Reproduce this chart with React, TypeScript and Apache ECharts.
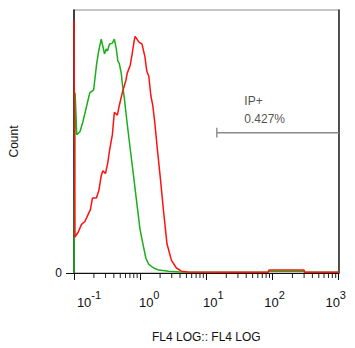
import React, { useEffect, useRef } from "react";
import * as echarts from "echarts";

// Histogram traces: [FL4 value, count]
const redSeries: [number, number][] = [
  [0.1, 96.3], [0.1035, 13.7], [0.116, 15.6], [0.13, 18.5], [0.146, 19.6], [0.163, 22.2],
  [0.177, 24.1], [0.19, 28.5], [0.218, 28.5], [0.238, 31.5], [0.258, 37.0], [0.273, 38.9],
  [0.299, 37.8], [0.324, 41.9], [0.343, 46.3], [0.38, 52.6], [0.407, 61.1], [0.452, 60.0],
  [0.484, 63.7], [0.536, 68.5], [0.609, 73.3], [0.636, 75.9], [0.706, 78.9], [0.756, 83.3],
  [0.809, 88.1], [0.837, 90.0], [0.896, 88.9], [0.959, 87.8], [1.066, 87.0], [1.18, 82.2],
  [1.26, 76.7], [1.35, 74.8], [1.45, 67.4], [1.55, 63.7], [1.66, 57.4], [1.8, 48.1],
  [2.02, 35.9], [2.26, 23.3], [2.54, 11.1], [2.97, 4.8], [3.53, 1.9], [4.19, 0.7],
  [5.3, 0.4], [20, 0.3], [86, 0.3], [88, 1.1], [300, 1.1], [305, 0.3], [1000, 0.3],
];

const greenSeries: [number, number][] = [
  [0.1, 0], [0.104, 68.5], [0.11, 52.6], [0.123, 53.7], [0.136, 57.4], [0.156, 63.7],
  [0.173, 68.5], [0.198, 69.6], [0.22, 79.6], [0.236, 84.4], [0.258, 88.9], [0.27, 86.7],
  [0.289, 83.3], [0.306, 85.2], [0.32, 84.4], [0.343, 87.0], [0.38, 87.4], [0.407, 88.9],
  [0.436, 85.2], [0.459, 80.7], [0.484, 79.6], [0.518, 75.9], [0.536, 72.2], [0.575, 66.7],
  [0.615, 60.0], [0.658, 53.7], [0.73, 44.4], [0.809, 35.2], [0.896, 25.9], [0.993, 16.7],
  [1.1, 11.1], [1.22, 5.6], [1.35, 3.3], [1.6, 1.9], [1.91, 1.1], [2.68, 0.7], [4.0, 0.4],
  [20, 0.3], [86, 0.3], [88, 0.7], [300, 0.7], [305, 0.3], [1000, 0.3],
];

// Gate "IP+"
const gateStart = 14.4;
const gateEnd = 1000;
const gateLevel = 53.3;
const gateCapLow = 51.5;
const gateCapHigh = 55.2;
const gateLabelPos: [number, number] = [37.5, 68.9];
const gateName = "IP+";
const gatePercent = "0.427%";

// Axes
const xMin = 0.1;
const xMax = 1000;
const yMin = 0;
const yMax = 100;
const yLabelValues = [0];
const decadeExponents = [-1, 0, 1, 2, 3];
const labelShift = [15, 9, 7, 2, -3];
const minorMultipliers = [2, 3, 4, 5, 6, 7, 8, 9];
const minorDecades = [-1, 0, 1, 2];
const xTitle = "FL4 LOG:: FL4 LOG";
const yTitle = "Count";

const FONT = "Liberation Sans, Arial, sans-serif";

export default function App() {
  const ref = useRef<HTMLDivElement>(null);

  useEffect(() => {
    if (!ref.current) return;
    const chart = echarts.init(ref.current, undefined, { renderer: "svg" });

    const minorTicks: [number, number][] = [];
    minorDecades.forEach((d) =>
      minorMultipliers.forEach((m) => minorTicks.push([m * Math.pow(10, d), 0]))
    );

    const rich: Record<string, any> = {};
    decadeExponents.forEach((e, i) => {
      const s = labelShift[i];
      rich["b" + i] = {
        fontSize: 13,
        fontFamily: FONT,
        color: "#111",
        lineHeight: 13,
        verticalAlign: "bottom",
        padding: [0, 0, 0, s > 0 ? 2 * s : 0],
      };
      rich["s" + i] = {
        fontSize: 11,
        fontFamily: FONT,
        color: "#111",
        lineHeight: 11,
        verticalAlign: "bottom",
        padding: [0, s < 0 ? -2 * s : 0, 9, 0],
      };
    });

    const option: any = {
      animation: false,
      textStyle: { fontFamily: FONT },
      grid: {
        left: 74,
        right: 12,
        top: 10,
        bottom: 68,
        show: true,
        borderColor: "#8c8c8c",
        borderWidth: 1,
        backgroundColor: "transparent",
      },
      xAxis: {
        type: "log",
        logBase: 10,
        min: xMin,
        max: xMax,
        splitNumber: 4,
        name: xTitle,
        nameLocation: "middle",
        nameGap: 58,
        nameTextStyle: { fontSize: 12, color: "#111", fontFamily: FONT },
        axisLine: { show: true, lineStyle: { color: "#111", width: 1.2 } },
        axisTick: { show: true, length: 7, inside: false, lineStyle: { color: "#111", width: 1 } },
        splitLine: { show: false },
        axisLabel: {
          margin: 23,
          rich,
          formatter: (v: number) => {
            const e = Math.round(Math.log10(v));
            const i = decadeExponents.indexOf(e);
            return `{b${i}|10}{s${i}|${e}}`;
          },
        },
      },
      yAxis: [
        {
          type: "value",
          min: yMin,
          max: yMax,
          name: yTitle,
          nameLocation: "middle",
          nameGap: 54,
          nameRotate: 90,
          nameTextStyle: { fontSize: 12, color: "#111", fontFamily: FONT },
          axisLine: { show: true, lineStyle: { color: "#111", width: 1.5 } },
          axisTick: { show: true, length: 8, customValues: yLabelValues, lineStyle: { color: "#111" } },
          splitLine: { show: false },
          axisLabel: {
            customValues: yLabelValues,
            fontSize: 12,
            color: "#111",
            margin: 12,
            padding: [0, 0, 6, 0],
            fontFamily: FONT,
          },
        },
        {
          type: "value",
          min: yMin,
          max: yMax,
          position: "right",
          axisLine: { show: true, lineStyle: { color: "#333", width: 1.6 } },
          axisTick: { show: false },
          axisLabel: { show: false },
          splitLine: { show: false },
        },
      ],
      series: [
        {
          type: "custom",
          name: "minorTicks",
          clip: false,
          silent: true,
          data: minorTicks,
          renderItem: (params: any, api: any) => {
            const p = api.coord([api.value(0), 0]);
            return {
              type: "line",
              shape: { x1: p[0], y1: p[1] + 1, x2: p[0], y2: p[1] + 5 },
              style: { stroke: "#222", lineWidth: 1 },
            };
          },
        },
        {
          type: "line",
          name: "green",
          data: greenSeries,
          symbol: "none",
          lineStyle: { color: "#18b018", width: 1.5 },
          z: 3,
        },
        {
          type: "line",
          name: "red",
          data: redSeries,
          symbol: "none",
          lineStyle: { color: "#ff1010", width: 1.5 },
          z: 4,
        },
        {
          type: "line",
          name: "gate",
          data: [
            [gateStart, gateCapHigh],
            [gateStart, gateCapLow],
            [gateStart, gateLevel],
            [gateEnd, gateLevel],
          ],
          symbol: "none",
          lineStyle: { color: "#8a8a8a", width: 1.4 },
          z: 5,
        },
        {
          type: "scatter",
          name: "gateLabel",
          data: [gateLabelPos],
          symbolSize: 0,
          silent: true,
          label: {
            show: true,
            position: "inside",
            align: "left",
            verticalAlign: "top",
            formatter: `${gateName}\n${gatePercent}`,
            fontSize: 12,
            lineHeight: 18,
            color: "#222",
            fontFamily: FONT,
          },
          z: 6,
        },
      ],
    };

    chart.setOption(option);
    return () => chart.dispose();
  }, []);

  return (
    <div
      ref={ref}
      style={{ position: "fixed", left: 0, top: 0, width: 355, height: 348, background: "#fff" }}
    />
  );
}
